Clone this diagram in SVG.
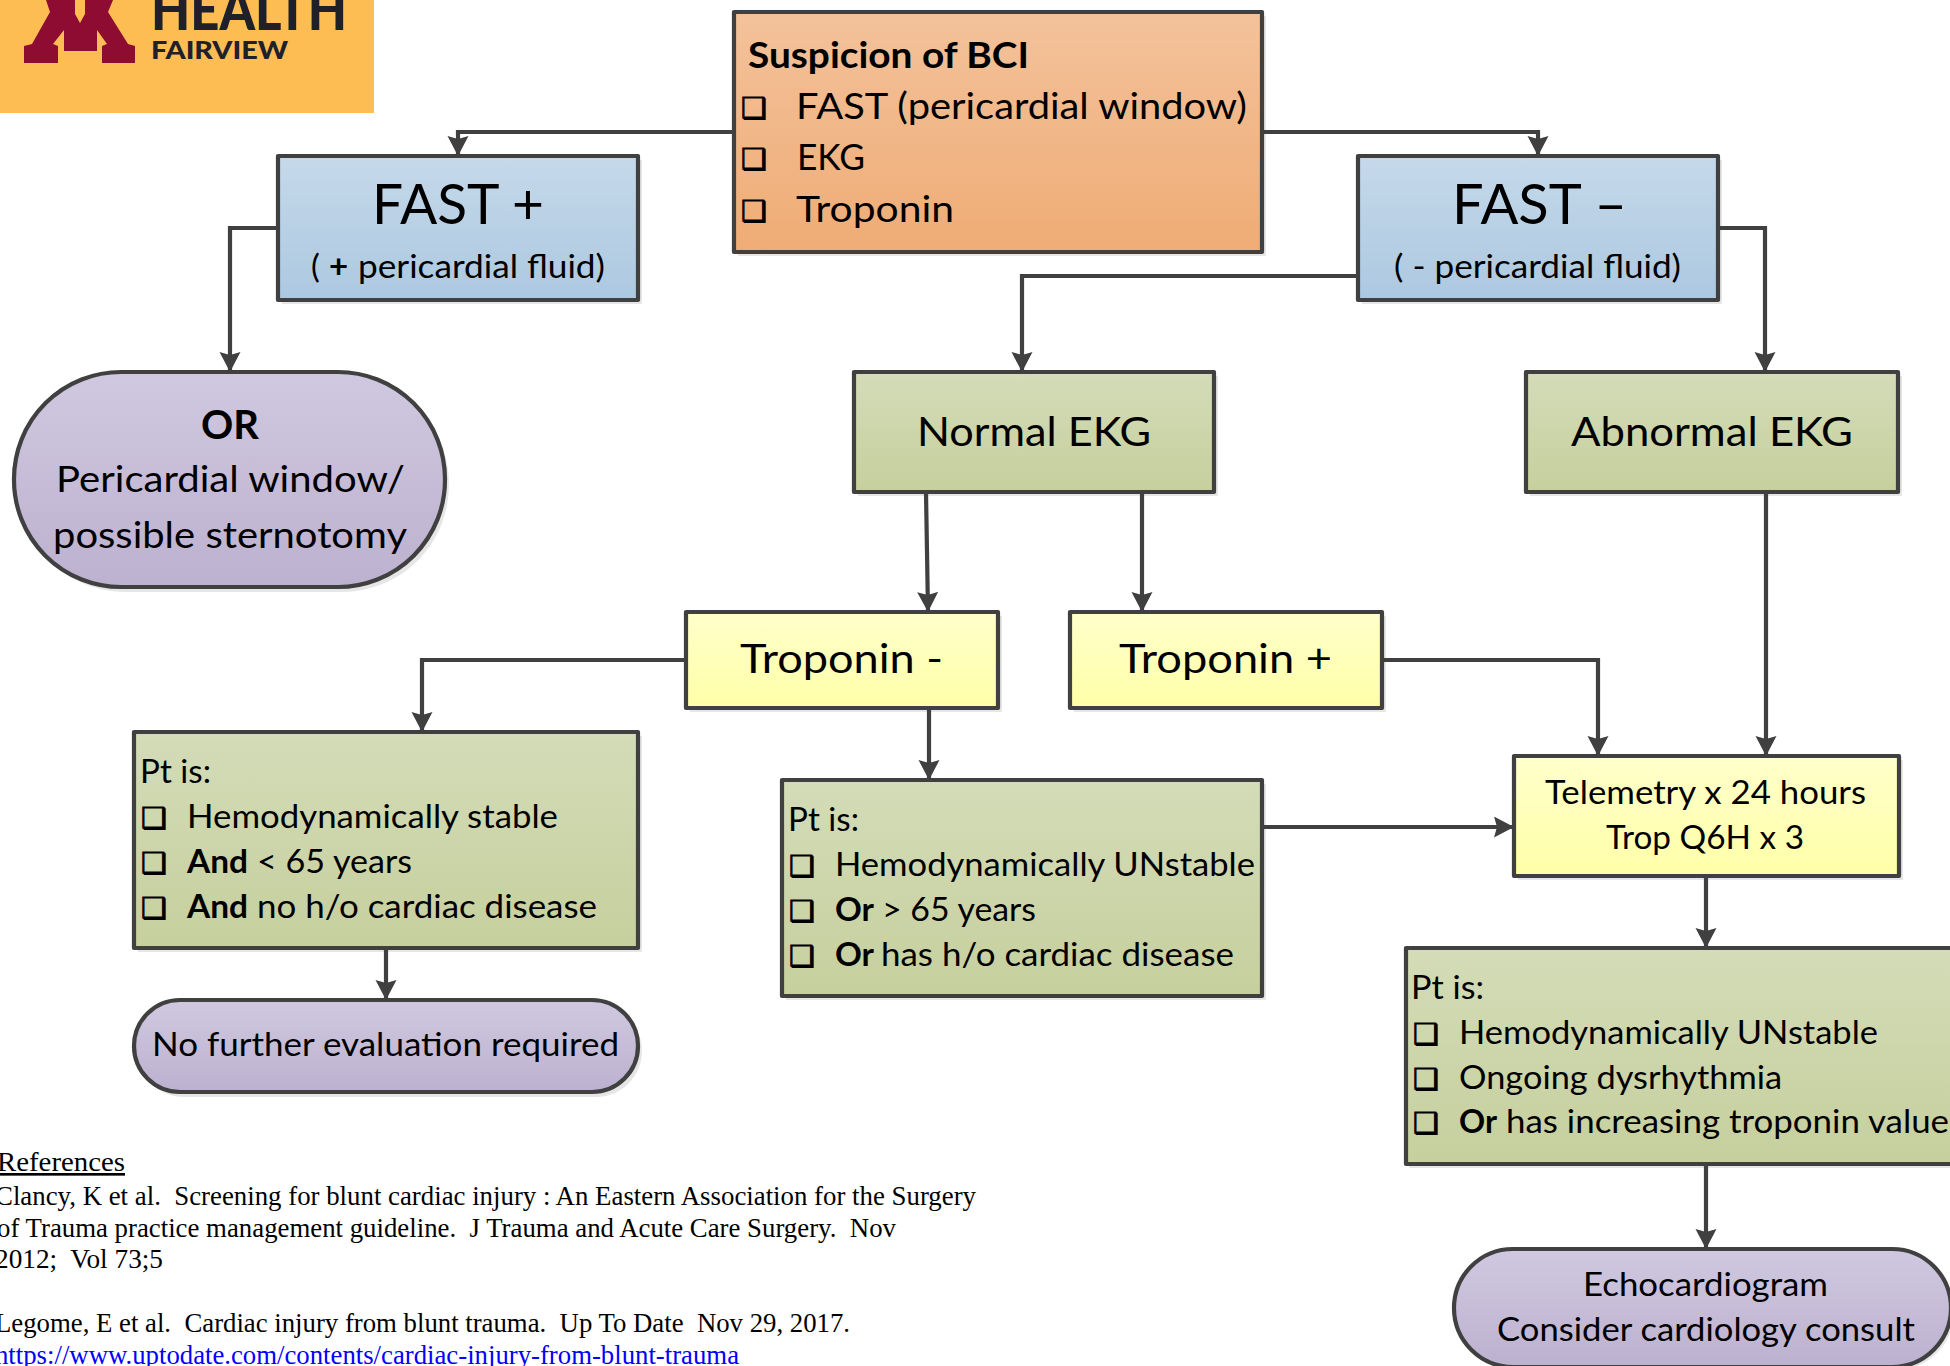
<svg xmlns="http://www.w3.org/2000/svg" width="1950" height="1366" viewBox="0 0 1950 1366">
<style>
text{font-family:"Lato","Open Sans","Liberation Sans",sans-serif;fill:#000;white-space:pre}
.b{font-weight:700}
.cb{font-family:"DejaVu Sans",sans-serif;font-size:29px;stroke:#000;stroke-width:1}
.s33{font-size:33px}
.s37{font-size:37px}
.s41{font-size:41px}
.s56{font-size:56px}
.ref{font-family:"Liberation Serif","Times New Roman",serif;font-size:26.5px}
.box{stroke:#404040;stroke-width:4.2;stroke-linejoin:round}
.sh{fill:#e6e6e6}
.c{fill:none;stroke:#404040;stroke-width:4.2}
</style>
<defs>
<linearGradient id="gO" x1="0" y1="0" x2="0" y2="1"><stop offset="0" stop-color="#f3c29b"/><stop offset="1" stop-color="#efac75"/></linearGradient>
<linearGradient id="gB" x1="0" y1="0" x2="0" y2="1"><stop offset="0" stop-color="#c5d9ea"/><stop offset="1" stop-color="#acc8e0"/></linearGradient>
<linearGradient id="gG" x1="0" y1="0" x2="0" y2="1"><stop offset="0" stop-color="#d4dcb8"/><stop offset="1" stop-color="#c6cf9d"/></linearGradient>
<linearGradient id="gY" x1="0" y1="0" x2="0" y2="1"><stop offset="0" stop-color="#ffffcb"/><stop offset="1" stop-color="#ffffa8"/></linearGradient>
<linearGradient id="gP" x1="0" y1="0" x2="0" y2="1"><stop offset="0" stop-color="#d0c8e0"/><stop offset="1" stop-color="#bcb1cf"/></linearGradient>
<marker id="arr" markerUnits="userSpaceOnUse" markerWidth="22" markerHeight="22" refX="20" refY="10.5" orient="auto">
<path d="M0,0 L20,10.5 L0,21 L3,10.5 Z" fill="#404040"/>
</marker>
</defs>

<g id="logo">
<rect x="0" y="0" width="374" height="113" fill="#fdbd52"/>
<path d="M46,0 L50,12 L32,44 L24,46 L24,63 L58,63 L58,46 L53,44 L64,30 L64,51 L97,51 L97,30 L107,44 L102,46 L102,63 L135,63 L135,46 L128,44 L108,12 L113,0 L85,0 L85,14 L80,23 L75,14 L75,0 Z" fill="#8e0b31"/>
<text x="151" y="30" font-size="57" font-weight="900" textLength="196" lengthAdjust="spacingAndGlyphs" style="fill:#20202a">HEALTH</text>
<text x="151" y="59" font-size="25" font-weight="900" textLength="137" lengthAdjust="spacingAndGlyphs" style="fill:#20202a">FAIRVIEW</text>
</g>

<g id="suspicion">
<rect class="sh" x="738" y="16" width="528" height="240"/>
<rect class="box" x="734" y="12" width="528" height="240" fill="url(#gO)"/>
<text class="s37 b" x="748" y="68" textLength="281" lengthAdjust="spacingAndGlyphs">Suspicion of BCI</text>
<text class="cb" x="741" y="118">❑</text>
<text class="s37" x="796" y="119" textLength="451" lengthAdjust="spacingAndGlyphs">FAST (pericardial window)</text>
<text class="cb" x="741" y="169">❑</text>
<text class="s37" x="797" y="170" textLength="68" lengthAdjust="spacingAndGlyphs">EKG</text>
<text class="cb" x="741" y="221">❑</text>
<text class="s37" x="796" y="222" textLength="158" lengthAdjust="spacingAndGlyphs">Troponin</text>
</g>

<g id="fast-pos">
<rect class="sh" x="282" y="160" width="360" height="144"/>
<rect class="box" x="278" y="156" width="360" height="144" fill="url(#gB)"/>
<text class="s56" x="372" y="224" textLength="172" lengthAdjust="spacingAndGlyphs">FAST +</text>
<text class="s33" x="311" y="278">( </text>
<text class="s33 b" x="329" y="278">+</text>
<text class="s33" x="358" y="278" textLength="247" lengthAdjust="spacingAndGlyphs">pericardial fluid)</text>
</g>

<g id="fast-neg">
<rect class="sh" x="1362" y="160" width="360" height="144"/>
<rect class="box" x="1358" y="156" width="360" height="144" fill="url(#gB)"/>
<text class="s56" x="1452" y="224" textLength="175" lengthAdjust="spacingAndGlyphs">FAST –</text>
<text class="s33" x="1394" y="278" textLength="287" lengthAdjust="spacingAndGlyphs">( - pericardial fluid)</text>
</g>

<g id="or">
<rect class="sh" x="18" y="377" width="431" height="215" rx="107" ry="107"/>
<rect class="box" x="14" y="372" width="431" height="215" rx="107" ry="107" fill="url(#gP)"/>
<text class="s41 b" x="201" y="439" textLength="58" lengthAdjust="spacingAndGlyphs">OR</text>
<text class="s37" x="56" y="492" textLength="349" lengthAdjust="spacingAndGlyphs">Pericardial window/</text>
<text class="s37" x="53" y="548" textLength="354" lengthAdjust="spacingAndGlyphs">possible sternotomy</text>
</g>

<g id="normal-ekg">
<rect class="sh" x="858" y="376" width="360" height="120"/>
<rect class="box" x="854" y="372" width="360" height="120" fill="url(#gG)"/>
<text class="s41" x="917" y="446" textLength="234" lengthAdjust="spacingAndGlyphs">Normal EKG</text>
</g>

<g id="abnormal-ekg">
<rect class="sh" x="1530" y="376" width="372" height="120"/>
<rect class="box" x="1526" y="372" width="372" height="120" fill="url(#gG)"/>
<text class="s41" x="1571" y="446" textLength="282" lengthAdjust="spacingAndGlyphs">Abnormal EKG</text>
</g>

<g id="trop-neg">
<rect class="sh" x="690" y="616" width="312" height="96"/>
<rect class="box" x="686" y="612" width="312" height="96" fill="url(#gY)"/>
<text class="s41" x="740" y="673" textLength="203" lengthAdjust="spacingAndGlyphs">Troponin -</text>
</g>

<g id="trop-pos">
<rect class="sh" x="1074" y="616" width="312" height="96"/>
<rect class="box" x="1070" y="612" width="312" height="96" fill="url(#gY)"/>
<text class="s41" x="1119" y="673" textLength="213" lengthAdjust="spacingAndGlyphs">Troponin +</text>
</g>

<g id="pt-stable">
<rect class="sh" x="138" y="736" width="504" height="216"/>
<rect class="box" x="134" y="732" width="504" height="216" fill="url(#gG)"/>
<text class="s33" x="140" y="783" textLength="71" lengthAdjust="spacingAndGlyphs">Pt is:</text>
<text class="cb" x="141" y="828">❑</text>
<text class="s33" x="187" y="828" textLength="371" lengthAdjust="spacingAndGlyphs">Hemodynamically stable</text>
<text class="cb" x="141" y="873">❑</text>
<text class="s33 b" x="187" y="873" textLength="61" lengthAdjust="spacingAndGlyphs">And</text>
<text class="s33" x="257" y="873" textLength="155" lengthAdjust="spacingAndGlyphs">&lt; 65 years</text>
<text class="cb" x="141" y="918">❑</text>
<text class="s33 b" x="187" y="918" textLength="61" lengthAdjust="spacingAndGlyphs">And</text>
<text class="s33" x="257" y="918" textLength="340" lengthAdjust="spacingAndGlyphs">no h/o cardiac disease</text>
</g>

<g id="no-further">
<rect class="sh" x="138" y="1005" width="504" height="92" rx="46" ry="46"/>
<rect class="box" x="134" y="1000" width="504" height="92" rx="46" ry="46" fill="url(#gP)"/>
<text class="s33" x="152" y="1056" textLength="467" lengthAdjust="spacingAndGlyphs">No further evaluation required</text>
</g>

<g id="pt-unstable">
<rect class="sh" x="786" y="784" width="480" height="216"/>
<rect class="box" x="782" y="780" width="480" height="216" fill="url(#gG)"/>
<text class="s33" x="788" y="831" textLength="71" lengthAdjust="spacingAndGlyphs">Pt is:</text>
<text class="cb" x="789" y="876">❑</text>
<text class="s33" x="835" y="876" textLength="420" lengthAdjust="spacingAndGlyphs">Hemodynamically UNstable</text>
<text class="cb" x="789" y="921">❑</text>
<text class="s33 b" x="835" y="921" textLength="39" lengthAdjust="spacingAndGlyphs">Or</text>
<text class="s33" x="882" y="921" textLength="154" lengthAdjust="spacingAndGlyphs">&gt; 65 years</text>
<text class="cb" x="789" y="966">❑</text>
<text class="s33 b" x="835" y="966" textLength="39" lengthAdjust="spacingAndGlyphs">Or</text>
<text class="s33" x="881" y="966" textLength="353" lengthAdjust="spacingAndGlyphs">has h/o cardiac disease</text>
</g>

<g id="telemetry">
<rect class="sh" x="1518" y="760" width="385" height="120"/>
<rect class="box" x="1514" y="756" width="385" height="120" fill="url(#gY)"/>
<text class="s33" x="1545" y="804" textLength="321" lengthAdjust="spacingAndGlyphs">Telemetry x 24 hours</text>
<text class="s33" x="1606" y="849" textLength="198" lengthAdjust="spacingAndGlyphs">Trop Q6H x 3</text>
</g>

<g id="pt-right">
<rect class="sh" x="1409" y="952" width="560" height="216"/>
<rect class="box" x="1406" y="948" width="560" height="216" fill="url(#gG)"/>
<text class="s33" x="1411" y="999" textLength="73" lengthAdjust="spacingAndGlyphs">Pt is:</text>
<text class="cb" x="1413" y="1044">❑</text>
<text class="s33" x="1459" y="1044" textLength="419" lengthAdjust="spacingAndGlyphs">Hemodynamically UNstable</text>
<text class="cb" x="1413" y="1089">❑</text>
<text class="s33" x="1459" y="1089" textLength="323" lengthAdjust="spacingAndGlyphs">Ongoing dysrhythmia</text>
<text class="cb" x="1413" y="1133">❑</text>
<text class="s33 b" x="1459" y="1133" textLength="38" lengthAdjust="spacingAndGlyphs">Or</text>
<text class="s33" x="1506" y="1133" textLength="443" lengthAdjust="spacingAndGlyphs">has increasing troponin value</text>
</g>

<g id="echo">
<rect class="sh" x="1458" y="1254" width="496" height="116" rx="58" ry="58"/>
<rect class="box" x="1454" y="1249" width="497" height="118" rx="59" ry="59" fill="url(#gP)"/>
<text class="s33" x="1583" y="1296" textLength="245" lengthAdjust="spacingAndGlyphs">Echocardiogram</text>
<text class="s33" x="1497" y="1341" textLength="418" lengthAdjust="spacingAndGlyphs">Consider cardiology consult</text>
</g>

<g id="connectors">
<path class="c" marker-end="url(#arr)" d="M734,132 H458 V156"/>
<path class="c" marker-end="url(#arr)" d="M1262,132 H1538 V156"/>
<path class="c" marker-end="url(#arr)" d="M278,228 H230 V372"/>
<path class="c" marker-end="url(#arr)" d="M1358,276 H1022 V372"/>
<path class="c" marker-end="url(#arr)" d="M1718,228 H1765 V372"/>
<path class="c" marker-end="url(#arr)" d="M926,492 L928,612"/>
<path class="c" marker-end="url(#arr)" d="M1142,492 V612"/>
<path class="c" marker-end="url(#arr)" d="M686,660 H422 V732"/>
<path class="c" marker-end="url(#arr)" d="M929,708 V780"/>
<path class="c" marker-end="url(#arr)" d="M1382,660 H1598 V756"/>
<path class="c" marker-end="url(#arr)" d="M1766,492 V756"/>
<path class="c" marker-end="url(#arr)" d="M1262,827 H1514"/>
<path class="c" marker-end="url(#arr)" d="M1706,876 V948"/>
<path class="c" marker-end="url(#arr)" d="M1706,1164 V1249"/>
<path class="c" marker-end="url(#arr)" d="M386,948 V1000"/>
</g>

<g id="references">
<text class="ref" x="-3" y="1171" text-decoration="underline" textLength="128" lengthAdjust="spacingAndGlyphs">References</text>
<text class="ref" x="-5" y="1205" textLength="981" lengthAdjust="spacingAndGlyphs">Clancy, K et al.  Screening for blunt cardiac injury : An Eastern Association for the Surgery</text>
<text class="ref" x="-3" y="1237" textLength="899" lengthAdjust="spacingAndGlyphs">of Trauma practice management guideline.  J Trauma and Acute Care Surgery.  Nov</text>
<text class="ref" x="-5" y="1268" textLength="168" lengthAdjust="spacingAndGlyphs">2012;  Vol 73;5</text>
<text class="ref" x="-5" y="1332" textLength="855" lengthAdjust="spacingAndGlyphs">Legome, E et al.  Cardiac injury from blunt trauma.  Up To Date  Nov 29, 2017.</text>
<text class="ref" x="-5" y="1364" textLength="744" lengthAdjust="spacingAndGlyphs" style="fill:#0000ff">https://www.uptodate.com/contents/cardiac-injury-from-blunt-trauma</text>
</g>
</svg>
